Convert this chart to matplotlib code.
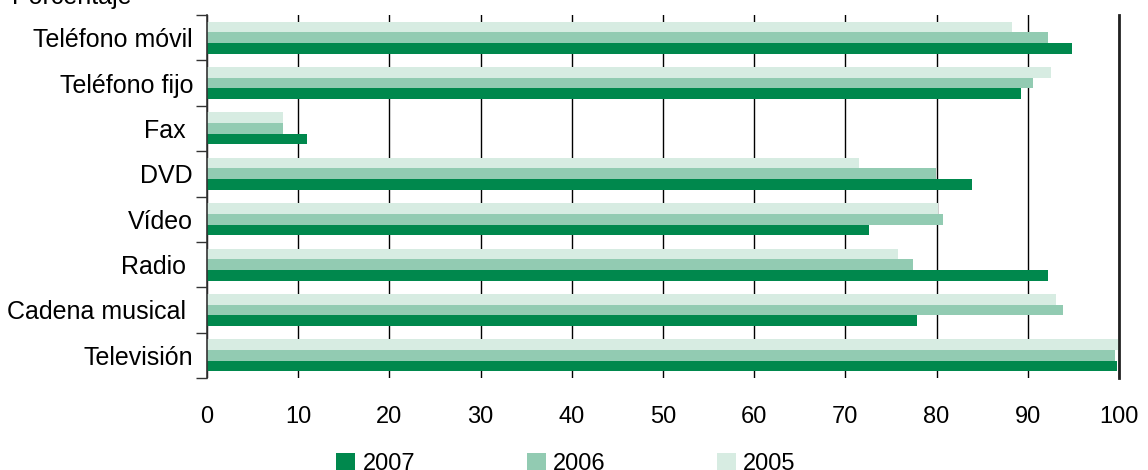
import numpy as np
import matplotlib
matplotlib.use("Agg")
import matplotlib.pyplot as plt
from matplotlib.patches import Patch

plt.rcParams['font.family'] = ['Liberation Sans', 'DejaVu Sans']

# categories listed bottom to top
categories = ["Televisión", "Cadena musical ", "Radio ", "Vídeo", "DVD", "Fax ", "Teléfono fijo", "Teléfono móvil"]
years = ["2007", "2006", "2005"]
vals_2007 = [99.8, 77.9, 92.2, 72.6, 83.9, 11.0, 89.2, 94.8]
vals_2006 = [99.6, 93.9, 77.4, 80.7, 79.9, 8.3, 90.6, 92.2]
vals_2005 = [100.0, 93.1, 75.8, 80.2, 71.5, 8.3, 92.5, 88.3]
colors = ["#00884d", "#92cbb2", "#d7ece2"]

fig = plt.figure(figsize=(11.48, 4.70), dpi=100)
ax = fig.add_axes([207 / 1148, 1 - 378 / 470, (1119 - 207) / 1148, (378 - 15) / 470])

y = np.arange(len(categories))
h = 0.235
ax.barh(y - h, vals_2007, height=h, color=colors[0], zorder=2)
ax.barh(y, vals_2006, height=h, color=colors[1], zorder=2)
ax.barh(y + h, vals_2005, height=h, color=colors[2], zorder=2)

ax.set_xlim(0, 100)
ax.set_ylim(-0.5, len(categories) - 0.5)
ax.set_xticks(np.arange(0, 101, 10))
ax.tick_params(axis='x', length=0, labelsize=17, pad=20)

# boundary ticks, labels at centres
ax.set_yticks(np.arange(-0.5, len(categories), 1))
ax.set_yticklabels([])
ax.tick_params(axis='y', which='major', length=8, width=1, color='#333333', direction='out')
ax.set_yticks(y, minor=True)
ax.set_yticklabels(categories, minor=True)
ax.tick_params(axis='y', which='minor', length=0, labelsize=18, pad=10)

ax.grid(axis='x', color='black', linewidth=1, zorder=1)
ax.set_axisbelow(True)

for s in ['top', 'bottom']:
    ax.spines[s].set_visible(False)
ax.spines['left'].set_color('#333333')
ax.spines['left'].set_linewidth(1.2)
ax.spines['right'].set_color('#222222')
ax.spines['right'].set_linewidth(2)

fig.text(12 / 1148, 1 - 4 / 470, "Porcentaje", fontsize=18, va='baseline', ha='left')

handles = [Patch(facecolor=c, edgecolor='none') for c in colors]
fig.legend(handles, years, loc='center', bbox_to_anchor=(566 / 1148, 6 / 470),
           ncol=3, frameon=False, fontsize=17, handlelength=0.8, handleheight=0.8,
           handletextpad=0.3, columnspacing=4.73, borderpad=0)

fig.savefig("out.png", dpi=100)
